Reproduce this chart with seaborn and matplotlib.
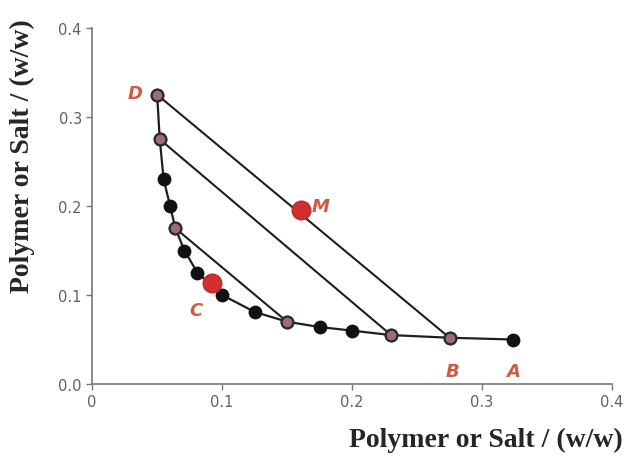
import matplotlib
matplotlib.use("Agg")
import matplotlib.pyplot as plt
import seaborn as sns
import pandas as pd

# binodal curve points (ordered from D to A)
curve_x = [0.050, 0.052, 0.055, 0.060, 0.064, 0.071, 0.081, 0.100, 0.125, 0.150, 0.175, 0.200, 0.230, 0.275, 0.324]
curve_y = [0.325, 0.275, 0.230, 0.200, 0.175, 0.150, 0.125, 0.100, 0.081, 0.070, 0.064, 0.060, 0.055, 0.052, 0.050]
# tie-line end points (pink)
tie_x1 = [0.050, 0.052, 0.064]
tie_y1 = [0.325, 0.275, 0.175]
tie_x2 = [0.275, 0.230, 0.150]
tie_y2 = [0.052, 0.055, 0.070]
# red mixture points
red_x = [0.161, 0.092]
red_y = [0.195, 0.113]
# point labels
lab_text = ["D", "M", "C", "B", "A"]
lab_x = [0.033, 0.176, 0.080, 0.277, 0.324]
lab_y = [0.327, 0.200, 0.083, 0.015, 0.015]

sns.set_style("white")
fig = plt.figure(figsize=(6.27, 4.6), dpi=100)
ax = fig.add_axes([0.147, 0.163, 0.829, 0.774])

line_col = "#1e1e1e"
curve_df = pd.DataFrame({"x": curve_x, "y": curve_y})
sns.lineplot(data=curve_df, x="x", y="y", sort=False, color=line_col, lw=1.6, ax=ax)

tie_rows = []
for i in range(len(tie_x1)):
    tie_rows.append({"x": tie_x1[i], "y": tie_y1[i], "u": i})
    tie_rows.append({"x": tie_x2[i], "y": tie_y2[i], "u": i})
tie_df = pd.DataFrame(tie_rows)
sns.lineplot(data=tie_df, x="x", y="y", units="u", estimator=None, sort=False,
             color=line_col, lw=1.5, ax=ax)

sns.scatterplot(data=curve_df, x="x", y="y", color="#111111", s=80,
                edgecolor="#111111", linewidth=1, ax=ax, zorder=3)
pink_df = pd.DataFrame({"x": tie_x1 + tie_x2, "y": tie_y1 + tie_y2})
sns.scatterplot(data=pink_df, x="x", y="y", color="#9c6e72", s=70,
                edgecolor="#2a2a2a", linewidth=1.5, ax=ax, zorder=4)
red_df = pd.DataFrame({"x": red_x, "y": red_y})
sns.scatterplot(data=red_df, x="x", y="y", color="#d42f30", s=180,
                edgecolor="#c02828", linewidth=1, ax=ax, zorder=5)

for t, x, y in zip(lab_text, lab_x, lab_y):
    ax.text(x, y, t, color="#cc5a45", fontsize=13, fontstyle="italic",
            fontweight="bold", ha="center", va="center", family="DejaVu Sans")

ax.set_xlim(0, 0.4)
ax.set_ylim(0, 0.4)
ax.set_xticks([0, 0.1, 0.2, 0.3, 0.4])
ax.set_xticklabels(["0", "0.1", "0.2", "0.3", "0.4"])
ax.set_yticks([0, 0.1, 0.2, 0.3, 0.4])
ax.set_yticklabels(["0.0", "0.1", "0.2", "0.3", "0.4"])
for s in ["top", "right"]:
    ax.spines[s].set_visible(False)
for s in ["left", "bottom"]:
    ax.spines[s].set_color("#777777")
    ax.spines[s].set_linewidth(1.2)
ax.tick_params(axis="both", colors="#777777", labelcolor="#606060",
               labelsize=10.5, length=4, width=1, direction="out",
               left=True, bottom=True)

ax.set_xlabel("Polymer or Salt / (w/w)", family="Liberation Serif",
              fontweight="bold", fontsize=20, ha="right", va="center")
ax.xaxis.set_label_coords((623 - 92) / 520, -0.157)
ax.set_ylabel("Polymer or Salt / (w/w)", family="Liberation Serif",
              fontweight="bold", fontsize=20, ha="center", va="center")
ax.yaxis.set_label_coords(-(92 - 22) / 520, (385 - 156) / 356)

fig.savefig("out.png", dpi=100)
